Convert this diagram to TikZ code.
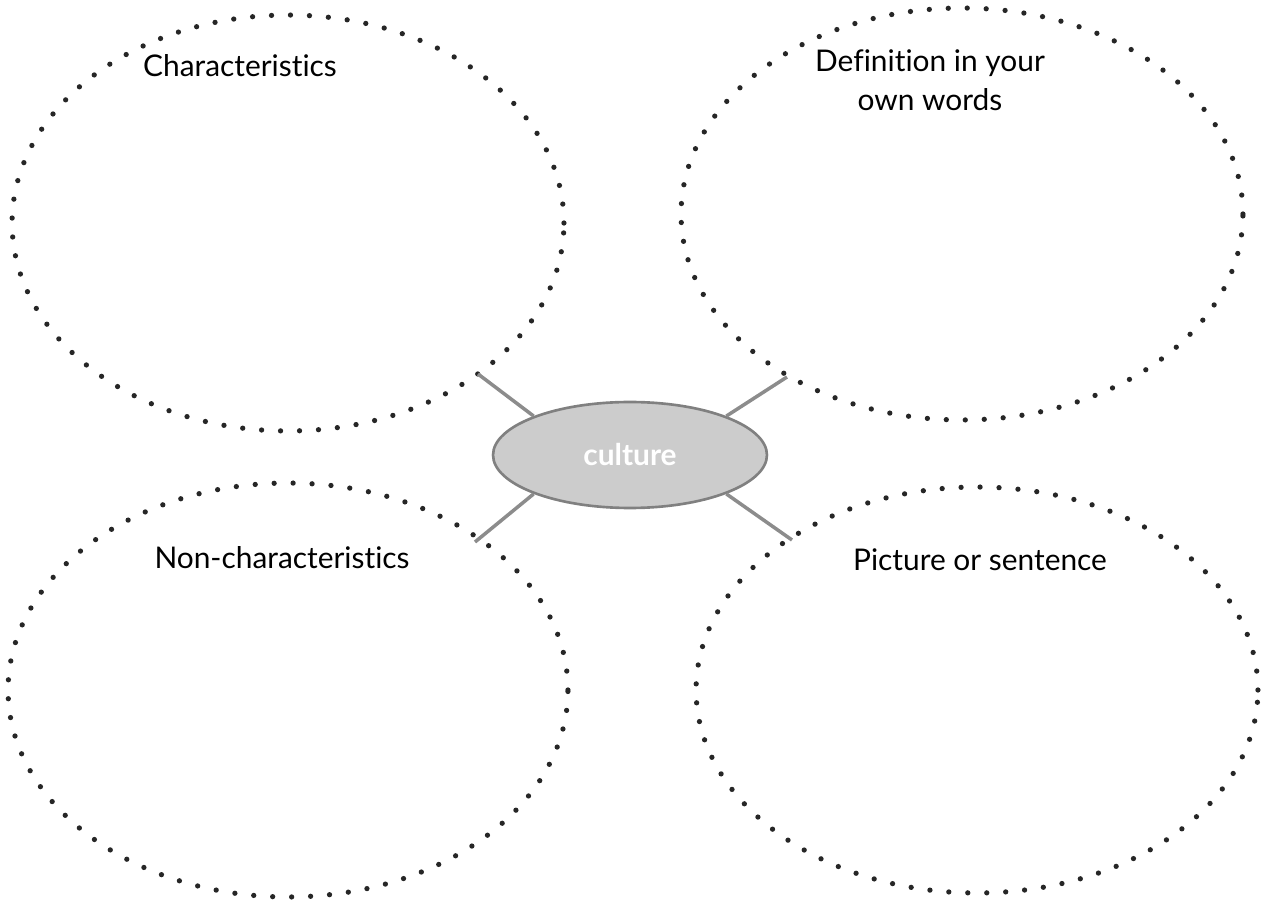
\documentclass[tikz,border=0pt]{standalone}
\usepackage{fontspec}
\setmainfont{Lato}[Ligatures={NoCommon}]
\usetikzlibrary{shapes.geometric}

\tikzset{
    dotring/.style={draw=black!85, line width=3pt, line cap=round, dash pattern=on 0pt off 10.8pt},
    label/.style={font=\fontsize{17}{22}\selectfont, align=center, text=black},
    spoke/.style={draw=black!45, line width=2pt}
}

\begin{document}
\begin{tikzpicture}[x=0.02cm, y=-0.02cm]
        \useasboundingbox (0, 0) rectangle (1269, 905);

        % the four rings
        \draw[dotring] (288, 223) ellipse [x radius=5.52cm, y radius=4.16cm];
        \draw[dotring] (962, 214) ellipse [x radius=5.62cm, y radius=4.12cm];
        \draw[dotring] (288, 690) ellipse [x radius=5.6cm, y radius=4.14cm];
        \draw[dotring] (977, 690) ellipse [x radius=5.62cm, y radius=4.06cm];

        \node[label] (char) at (240, 66) {Characteristics};
        \node[label] (defn) at (930, 80) {Definition in your\\own words};
        \node[label] (nonchar) at (282, 558) {Non-characteristics};
        \node[label] (pict) at (980, 560) {Picture or sentence};

        % centre
        \node[ellipse, draw=black!50, line width=1.5pt, fill=black!20,
              minimum width=5.48cm, minimum height=2.12cm,
              font=\fontsize{17}{20}\selectfont\bfseries, text=white] (culture) at (630, 455) {culture};

        \coordinate (tl) at (478, 374);
        \coordinate (tr) at (787, 377);
        \coordinate (bl) at (475, 542);
        \coordinate (br) at (792, 540);

        \draw[spoke] (culture.158) -- (tl);
        \draw[spoke] (culture.22) -- (tr);
        \draw[spoke] (culture.202) -- (bl);
        \draw[spoke] (culture.338) -- (br);
    \end{tikzpicture}
\end{document}
